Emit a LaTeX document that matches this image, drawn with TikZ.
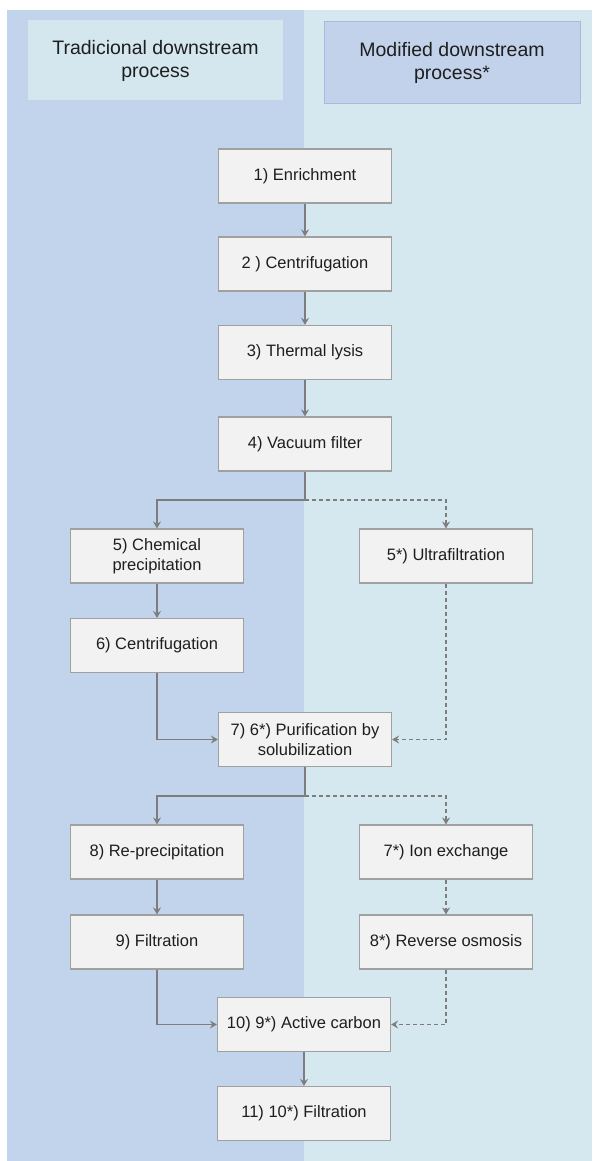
\documentclass[tikz,border=0pt]{standalone}
\usepackage{fontspec}
\setmainfont{Liberation Sans}
\usetikzlibrary{arrows.meta}
\definecolor{panelL}{RGB}{193,212,235}
\definecolor{panelR}{RGB}{213,231,239}
\definecolor{hdrL}{RGB}{212,231,238}
\definecolor{hdrR}{RGB}{193,210,234}
\definecolor{hdrRb}{RGB}{165,188,222}
\definecolor{boxfill}{RGB}{242,242,242}
\definecolor{boxline}{RGB}{160,160,160}
\definecolor{arrc}{RGB}{125,125,125}
\definecolor{txt}{RGB}{30,30,30}
\tikzset{
  stepbox/.style={draw=boxline, fill=boxfill, line width=1.2pt, minimum width=173pt, minimum height=54pt,
    inner sep=0pt, align=center, text=txt, font=\fontsize{16.5}{20}\selectfont},
  hdr/.style={minimum width=255pt, minimum height=80pt, inner sep=0pt, align=center, text=txt,
    font=\fontsize{19.5}{23}\selectfont},
  arr/.style={draw=arrc, line width=1.5pt, -{Stealth[length=7pt,width=8pt,inset=2.5pt]}},
  darr/.style={draw=arrc, line width=1.5pt, dash pattern=on 4pt off 3pt, -{Stealth[length=7pt,width=8pt,inset=2.5pt]}},
}
\begin{document}
\begin{tikzpicture}[x=1pt,y=-1pt]
\useasboundingbox (0,0) rectangle (592,1161);
\fill[white] (0,0) rectangle (592,1161);
\fill[panelL] (7,10) rectangle (304,1161);
\fill[panelR] (304,10) rectangle (592,1161);

\node[hdr, fill=hdrL] (h1) at (155.5,60.5) {Tradicional downstream\\process};
\node[hdr, fill=hdrR, draw=hdrRb, line width=1pt, minimum width=256pt, minimum height=82pt] (h2) at (452,63) {Modified downstream\\process*};

\node[stepbox] (n1) at (305,176) {1) Enrichment};
\node[stepbox] (n2) at (305,264) {2 ) Centrifugation};
\node[stepbox] (n3) at (305,352.5) {3) Thermal lysis};
\node[stepbox] (n4) at (305,444) {4) Vacuum filter};
\node[stepbox] (n5) at (157,556) {5) Chemical\\precipitation};
\node[stepbox] (n5s) at (446,556) {5*) Ultrafiltration};
\node[stepbox] (n6) at (157,645.5) {6) Centrifugation};
\node[stepbox] (n7) at (305,739.5) {7) 6*) Purification by\\solubilization};
\node[stepbox] (n8) at (157,852) {8) Re-precipitation};
\node[stepbox] (n7s) at (446,852) {7*) Ion exchange};
\node[stepbox] (n9) at (157,942) {9) Filtration};
\node[stepbox] (n8s) at (446,942) {8*) Reverse osmosis};
\node[stepbox] (n10) at (304,1024.5) {10) 9*) Active carbon};
\node[stepbox] (n11) at (304,1113.5) {11) 10*) Filtration};

\coordinate (b1) at (305,500);
\coordinate (b2) at (305,796);

\draw[arr] (n1) -- (n2);
\draw[arr] (n2) -- (n3);
\draw[arr] (n3) -- (n4);
\draw[arr] (n4.south) -- (b1) -| (n5.north);
\draw[darr] (b1) -| (n5s.north);
\draw[arr] (n5) -- (n6);
\draw[arr] (n6.south) |- (n7.west);
\draw[darr] (n5s.south) |- (n7.east);
\draw[arr] (n7.south) -- (b2) -| (n8.north);
\draw[darr] (b2) -| (n7s.north);
\draw[arr] (n8) -- (n9);
\draw[darr] (n7s) -- (n8s);
\draw[arr] (n9.south) |- (n10.west);
\draw[darr] (n8s.south) |- (n10.east);
\draw[arr] (n10) -- (n11);
\end{tikzpicture}
\end{document}
